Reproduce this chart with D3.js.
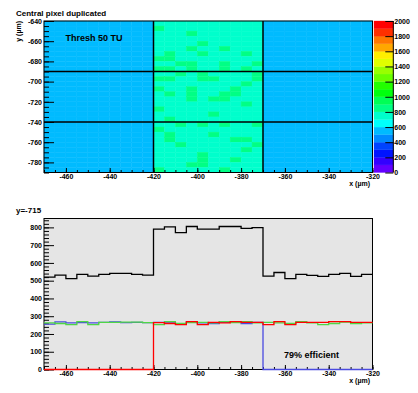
<!DOCTYPE html>
<html><head><meta charset="utf-8">
<script src="https://cdn.jsdelivr.net/npm/d3@7"></script>
<style>
body{margin:0;background:#fff}
svg text{font-family:"Liberation Sans",Arial,Helvetica,sans-serif;font-weight:bold;fill:#000}
</style>
</head><body>
<svg id="c" width="418" height="393"></svg>
<script>
// ---------------- DATA ----------------
const xDomain = [-470, -320];
const binWidth = 5;
const yMapDomain = [-790, -640];
const paletteMax = 2000;
const paletteLevels = 20;
// 2D map content, rows from y=-640 (top) to y=-790 (bottom), 30 x-bins each;
// each character is the hundreds digit of the bin content
const heatRows = [
  "555555555577777777775555555555",
  "555555555587777777775555555555",
  "555555555577787777775555555555",
  "555555555577777777775555555555",
  "555555555577778777775555555555",
  "555555555577787787775555555555",
  "555555555578778777875555555555",
  "555555555588777777775555555555",
  "555555555577887787785555555555",
  "555555555588787787875555555555",
  "555555555577878777785555555555",
  "555555555588778877785555555555",
  "555555555577777777875555555555",
  "555555555587787778775555555555",
  "555555555578787788775555555555",
  "555555555577787887775555555555",
  "555555555577777777875555555555",
  "555555555587777777775555555555",
  "555555555577777877775555555555",
  "555555555578777777775555555555",
  "555555555577878787785555555555",
  "555555555587777777775555555555",
  "555555555578777877775555555555",
  "555555555578777778875555555555",
  "555555555577877777785555555555",
  "555555555577777777875555555555",
  "555555555577778777775555555555",
  "555555555577778778775555555555",
  "555555555577788777775555555555",
  "555555555587777787775555555555"
];
const vLinesX = [-420, -370];
const hLinesY = [-690, -740];

// slice y=-715, 30 bins from -470 to -320
const sumVals   = [520,531,512,535,526,535,541,541,535,531, 790,803,771,805,790, 790,805,805,794,799, 526,546,512,535,530,524,535,541,524,535];
const blueVals  = [255,268,262,264,262,265,268,264,265,264, 265,262,258,267,262, 258,265,270,259,265, 0,0,0,0,0,0,0,0,0,0];
const greenVals = [263,259,253,270,253,265,265,267,267,264, 253,270,260,264,265, 262,270,264,270,262, 265,262,259,270,262,253,259,267,259,262];
const redVals   = [0,0,0,0,0,0,0,0,0,0, 264,259,253,270,253, 265,262,270,265,265, 253,270,253,265,265,265,270,270,265,265];

const xTicks = [-460,-440,-420,-400,-380,-360,-340,-320];
const yMapTicks = [-780,-760,-740,-720,-700,-680,-660,-640];
const ySliceTicks = [0,100,200,300,400,500,600,700,800];
const paletteTicks = [0,200,400,600,800,1000,1200,1400,1600,1800,2000];
const ySliceMax = 850;

// ---------------- LAYOUT ----------------
const svg = d3.select("#c");
const L = 44, R = 372.5;
const topT = 21, topB = 172.5;
const botT = 218.5, botB = 369.5;
const palL = 374, palR = 393.3;

const x = d3.scaleLinear().domain(xDomain).range([L, R]);
const yMap = d3.scaleLinear().domain(yMapDomain).range([topB, topT]);
const ySl = d3.scaleLinear().domain([0, ySliceMax]).range([botB, botT]);
const yPal = d3.scaleLinear().domain([0, paletteMax]).range([topB, topT]);
const fmt = d => String(d);

function rootColor(k){
  const idx = Math.floor((k + 0.99) * 50 / paletteLevels);
  const hue = 280 - (idx + 1) * 5.6;
  return d3.hsl(hue, 1, 0.5).formatHex();
}
const levelStep = paletteMax / paletteLevels;
const colorOf = v => rootColor(Math.max(0, Math.min(paletteLevels-1, Math.floor(v / levelStep))));

// ---------------- TOP: 2D MAP ----------------
const cells = [];
heatRows.forEach((row, r) => {
  for (let c = 0; c < row.length; c++) {
    cells.push({x0: xDomain[0] + c*binWidth, y1: yMapDomain[1] - r*binWidth, v: (+row[c])*100 + 50});
  }
});
svg.append("g").selectAll("rect").data(cells).join("rect")
  .attr("x", d => x(d.x0)).attr("width", d => x(d.x0 + binWidth) - x(d.x0))
  .attr("y", d => yMap(d.y1)).attr("height", d => yMap(d.y1 - binWidth) - yMap(d.y1))
  .attr("fill", d => colorOf(d.v)).attr("stroke", d => colorOf(d.v)).attr("stroke-width", 0.4);

const lines = svg.append("g").attr("stroke", "#000").attr("stroke-width", 1.5);
vLinesX.forEach(v => lines.append("line").attr("x1", x(v)).attr("x2", x(v)).attr("y1", topT).attr("y2", topB));
hLinesY.forEach(v => lines.append("line").attr("x1", L).attr("x2", R).attr("y1", yMap(v)).attr("y2", yMap(v)));

svg.append("rect").attr("x", L).attr("y", topT).attr("width", R-L).attr("height", topB-topT)
  .attr("fill", "none").attr("stroke", "#000").attr("stroke-width", 1);

function styleAxis(g){
  g.select(".domain").remove();
  g.selectAll("line").attr("stroke", "#000");
  g.selectAll("text").attr("font-size", 7);
  g.attr("font-family", null).attr("font-size", null);
}
function minors(domain, step){ const a=[]; for (let v=Math.ceil(domain[0]/step)*step; v<=domain[1]+1e-9; v+=step) a.push(v); return a; }

// top y-axis
svg.append("g").attr("transform", `translate(${L},0)`)
  .call(d3.axisLeft(yMap).tickValues(minors(yMapDomain,5)).tickSize(-5).tickFormat("")).call(styleAxis);
svg.append("g").attr("transform", `translate(${L},0)`)
  .call(d3.axisLeft(yMap).tickValues(yMapTicks).tickSize(-10).tickPadding(2).tickFormat(fmt)).call(styleAxis);
// top x-axis
svg.append("g").attr("transform", `translate(0,${topB})`)
  .call(d3.axisBottom(x).tickValues(minors(xDomain,5)).tickSize(-2.5).tickFormat("")).call(styleAxis);
svg.append("g").attr("transform", `translate(0,${topB})`)
  .call(d3.axisBottom(x).tickValues(xTicks).tickSize(-4.5).tickPadding(1.5).tickFormat(fmt)).call(styleAxis);

// palette
const pal = svg.append("g");
d3.range(paletteLevels).forEach(k => {
  pal.append("rect").attr("x", palL).attr("width", palR - palL)
    .attr("y", yPal((k+1)*levelStep)).attr("height", yPal(k*levelStep) - yPal((k+1)*levelStep))
    .attr("fill", rootColor(k)).attr("stroke", rootColor(k)).attr("stroke-width", 0.3);
});
svg.append("line").attr("x1", palR).attr("x2", palR).attr("y1", topT).attr("y2", topB).attr("stroke", "#000");
svg.append("g").attr("transform", `translate(${palR},0)`)
  .call(d3.axisRight(yPal).tickValues(paletteTicks).tickSize(-8).tickPadding(1).tickFormat(fmt)).call(styleAxis);

// texts top
svg.append("text").attr("x", 16).attr("y", 16).attr("font-size", 8).text("Central pixel duplicated");
svg.append("text").attr("x", 65.5).attr("y", 40.5).attr("font-size", 9).text("Thresh 50 TU");
svg.append("text").attr("x", 370).attr("y", 186).attr("font-size", 7).attr("text-anchor", "end").text("x (µm)");
svg.append("text").attr("transform", `translate(20.5,${topT}) rotate(-90)`).attr("font-size", 7).attr("text-anchor", "end").text("y (µm)");

// ---------------- BOTTOM: SLICE ----------------
svg.append("rect").attr("x", L).attr("y", botT).attr("width", R-L).attr("height", botB-botT)
  .attr("fill", "#e5e5e5").attr("stroke", "#000").attr("stroke-width", 1);

svg.append("g").attr("transform", `translate(${L},0)`)
  .call(d3.axisLeft(ySl).tickValues(minors([0,ySliceMax],20)).tickSize(-5).tickFormat("")).call(styleAxis);
svg.append("g").attr("transform", `translate(${L},0)`)
  .call(d3.axisLeft(ySl).tickValues(ySliceTicks).tickSize(-10).tickPadding(2).tickFormat(fmt)).call(styleAxis);
svg.append("g").attr("transform", `translate(0,${botB})`)
  .call(d3.axisBottom(x).tickValues(minors(xDomain,5)).tickSize(-2.5).tickFormat("")).call(styleAxis);
svg.append("g").attr("transform", `translate(0,${botB})`)
  .call(d3.axisBottom(x).tickValues(xTicks).tickSize(-4.5).tickPadding(1.5).tickFormat(fmt)).call(styleAxis);

const step = d3.line().curve(d3.curveStepAfter).x(d => x(d[0])).y(d => ySl(d[1]));
function histPts(vals){ const p = vals.map((v,i) => [xDomain[0] + i*binWidth, v]); p.push([xDomain[1], vals[vals.length-1]]); return p; }
[[sumVals,"#000"],[blueVals,"#4b4be0"],[greenVals,"#4fd646"],[redVals,"#ff0000"]].forEach(([vals,col]) => {
  svg.append("path").attr("d", step(histPts(vals))).attr("fill", "none").attr("stroke", col).attr("stroke-width", 1.3);
});

svg.append("text").attr("x", 16).attr("y", 213).attr("font-size", 8).text("y=-715");
svg.append("text").attr("x", 284).attr("y", 357.5).attr("font-size", 9).text("79% efficient");
svg.append("text").attr("x", 370).attr("y", 383).attr("font-size", 7).attr("text-anchor", "end").text("x (µm)");
</script>
</body></html>
